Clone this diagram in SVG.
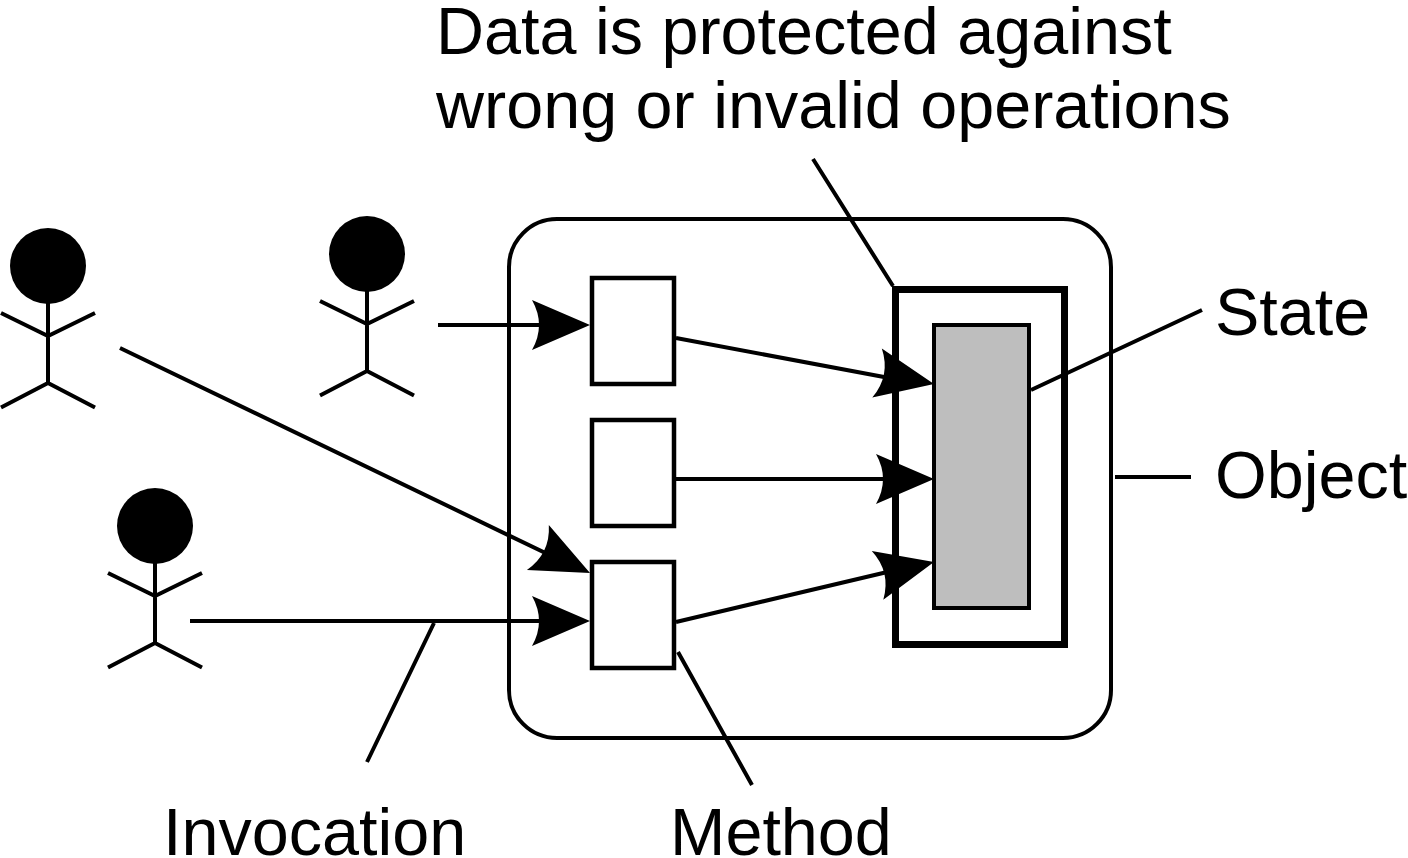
<svg xmlns="http://www.w3.org/2000/svg" width="1408" height="858" viewBox="0 0 1408 858">
<style>
.l{fill:none;stroke:#000;stroke-width:4}
.b{fill:#fff;stroke:#000;stroke-width:4.500}
text{font-family:"Liberation Sans",Arial,sans-serif;font-size:66.500px;fill:#000}
</style>
<defs>
<path id="ah" d="M0 0L-58 -25Q-44 0 -58 25Z" fill="#000"/>
<g id="person"><circle cx="0" cy="0" r="38" fill="#000"/><path class="l" d="M0 30V117M-47 47L0 70L47 47M-47 141.500L0 117L47 141.500"/></g>
</defs>
<rect width="1408" height="858" fill="#fff"/>
<g id="object"><rect class="l" x="509" y="219" width="602" height="519" rx="48" ry="48"/></g>
<g id="actor-1"><use href="#person" x="48" y="266"/></g>
<g id="actor-2"><use href="#person" x="367" y="254"/></g>
<g id="actor-3"><use href="#person" x="155" y="526"/></g>
<g id="guard"><rect x="895.500" y="289.500" width="169" height="355" fill="none" stroke="#000" stroke-width="7"/></g>
<g id="state"><rect x="934" y="325" width="95" height="283" fill="#bebebe" stroke="#000" stroke-width="4"/></g>
<g id="method-1"><rect class="b" x="592" y="278" width="82" height="106"/></g>
<g id="method-2"><rect class="b" x="592" y="420" width="82" height="106"/></g>
<g id="method-3"><rect class="b" x="592" y="562" width="82" height="106"/></g>
<g id="connectors">
<path class="l" d="M438 325H550M120 348L560 560M190 621H550M676 338L900 380M676 479H900M676 622L900 569"/>
<path class="l" d="M813 159L893 286M1031 390L1202 310M1115 477H1191M434 623L367 762M678 652L752 785"/>
<use href="#ah" transform="translate(590,325)"/>
<use href="#ah" transform="translate(590,573) rotate(26)"/>
<use href="#ah" transform="translate(590,621)"/>
<use href="#ah" transform="translate(934,384) rotate(11)"/>
<use href="#ah" transform="translate(934,479)"/>
<use href="#ah" transform="translate(934,562) rotate(-13.300)"/>
</g>
<g id="labels">
<text x="436" y="54">Data is protected against</text>
<text x="436" y="128">wrong or invalid operations</text>
<text x="1215" y="335">State</text>
<text x="1215" y="498">Object</text>
<text x="163" y="855">Invocation</text>
<text x="670" y="855">Method</text>
</g>
</svg>
